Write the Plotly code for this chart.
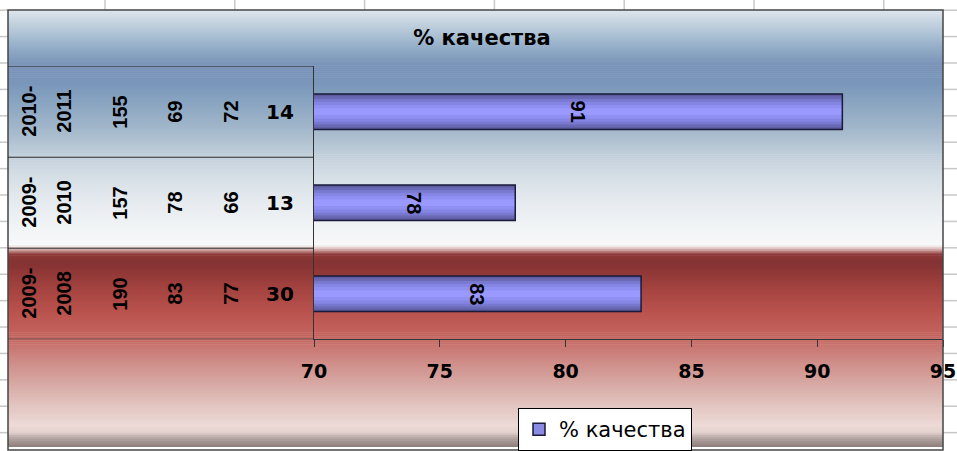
import plotly.graph_objects as go

# ---------------- data ----------------
periods = ["2009-2008", "2009-2010", "2010-2011"]      # bottom -> top
col_a = [190, 157, 155]
col_b = [83, 78, 69]
col_c = [77, 66, 72]
col_d = [30, 13, 14]
quality = [83, 78, 91]
x_ticks = [70, 75, 80, 85, 90, 95]
series_name = "% качества"
chart_title = "% качества"

# ---------------- geometry helpers (canvas pixels -> paper) ----------------
W, H = 957, 451
def px(x):
    return x / W
def py(y):
    return 1 - y / H

X_MIN, X_MAX = x_ticks[0], x_ticks[-1]

fig = go.Figure()

# bar drawn as stacked overlay layers to mimic Excel's gradient fill
layers = [(0.39, "#5b5b9d"), (0.34, "#6868b4"), (0.28, "#7878ce"),
          (0.22, "#8585e4"), (0.15, "#9090f4"), (0.07, "#9999ff")]
for w, c in layers:
    fig.add_trace(go.Bar(x=quality, y=periods, orientation="h", width=w,
                         marker=dict(color=c, line=dict(width=0)),
                         showlegend=False, hoverinfo="skip"))
# outline on top
fig.add_trace(go.Bar(x=quality, y=periods, orientation="h", width=0.39,
                     marker=dict(color="rgba(0,0,0,0)",
                                 line=dict(color="#1a1a3a", width=1.5)),
                     name=series_name, showlegend=False,
                     hovertemplate="%{y}: %{x}<extra></extra>"))
# legend entry
fig.add_trace(go.Bar(x=[None], y=[None], orientation="h", name=series_name,
                     marker=dict(color="#8a8ae2", line=dict(color="#1a1a3a", width=1.5)),
                     showlegend=True))

# ---------------- background gradient (chart area) ----------------
stops = [
    (10, (0xdf, 0xe7, 0xee)), (22, (0xc6, 0xd4, 0xe0)), (37, (0xa9, 0xbf, 0xd2)),
    (52, (0x8c, 0xa7, 0xc4)), (68, (0x77, 0x91, 0xb7)), (85, (0x7a, 0x97, 0xba)),
    (105, (0x8b, 0xa6, 0xc2)), (130, (0xa2, 0xb7, 0xca)), (155, (0xbf, 0xcd, 0xd9)),
    (180, (0xd7, 0xe0, 0xe7)), (205, (0xe6, 0xeb, 0xef)), (230, (0xf1, 0xf4, 0xf6)),
    (248, (0xf7, 0xf8, 0xf9)), (252, (0xd9, 0xb4, 0xb2)), (257, (0x8e, 0x3a, 0x38)),
    (266, (0x84, 0x32, 0x32)), (290, (0xa2, 0x42, 0x3f)), (315, (0xb9, 0x52, 0x4d)),
    (340, (0xc4, 0x65, 0x60)), (360, (0xcc, 0x85, 0x80)), (385, (0xd6, 0xa5, 0xa0)),
    (410, (0xe2, 0xc5, 0xc0)), (430, (0xec, 0xd9, 0xd5)), (437, (0xe2, 0xd0, 0xcc)),
    (444, (0xb0, 0xa0, 0x9e)), (452, (0x8c, 0x7c, 0x7a)),
]
def color_at(y):
    for (y0, c0), (y1, c1) in zip(stops[:-1], stops[1:]):
        if y0 <= y <= y1:
            t = (y - y0) / (y1 - y0)
            return "rgb(%d,%d,%d)" % tuple(round(a + (b - a) * t) for a, b in zip(c0, c1))
    return "rgb(%d,%d,%d)" % stops[-1][1]

shapes = []
step = 2
y = 10
while y < 452:
    shapes.append(dict(type="rect", xref="paper", yref="paper", layer="below",
                       x0=px(8), x1=px(943), y0=py(min(y + step + 0.6, 452)), y1=py(y),
                       fillcolor=color_at(y + step / 2), line=dict(width=0)))
    y += step

# spreadsheet grid outside the chart area
grid_c = "#c8c8c8"
gy = 10.3
while gy < H:
    shapes.append(dict(type="line", xref="paper", yref="paper", layer="below",
                       x0=0, x1=px(8), y0=py(gy), y1=py(gy), line=dict(color=grid_c, width=1.5)))
    shapes.append(dict(type="line", xref="paper", yref="paper", layer="below",
                       x0=px(943), x1=1, y0=py(gy), y1=py(gy), line=dict(color=grid_c, width=1.5)))
    gy += 26.7
gx = 105
while gx < 943:
    shapes.append(dict(type="line", xref="paper", yref="paper", layer="below",
                       x0=px(gx), x1=px(gx), y0=py(10), y1=1, line=dict(color=grid_c, width=1.5)))
    gx += 129.8

# chart area border
shapes.append(dict(type="rect", xref="paper", yref="paper", layer="above",
                   x0=px(8), x1=px(943), y0=py(455), y1=py(10),
                   line=dict(color="#454545", width=1.5), fillcolor="rgba(0,0,0,0)"))

# data table lines
for k in range(len(periods) + 1):
    shapes.append(dict(type="line", xref="paper", yref="y", layer="above",
                       x0=px(8), x1=px(314), y0=k - 0.5, y1=k - 0.5,
                       line=dict(color="#2a2a2a", width=1)))

# ---------------- annotations ----------------
annotations = []
rot_font = dict(family="Liberation Sans, Arial", size=20, color="black", weight="bold")
hor_font = dict(family="DejaVu Sans", size=20, color="black", weight="bold")
for i, p in enumerate(periods):
    first, second = p.split("-")
    for txt, xx in [(first + "-", 29), (second, 64), (str(col_a[i]), 120),
                    (str(col_b[i]), 175), (str(col_c[i]), 231)]:
        annotations.append(dict(xref="paper", yref="y", x=px(xx), y=p, text=txt,
                                textangle=-90, showarrow=False, font=rot_font,
                                xanchor="center", yanchor="middle"))
    annotations.append(dict(xref="paper", yref="y", x=px(280), y=p, text=str(col_d[i]),
                            showarrow=False, font=hor_font, xanchor="center", yanchor="middle"))
    # bar value labels (centred on the visible part of the bar)
    annotations.append(dict(xref="x", yref="y", x=(X_MIN + quality[i]) / 2, y=p,
                            text=str(quality[i]), textangle=90, showarrow=False,
                            font=dict(family="Liberation Sans, Arial", size=20,
                                      color="black", weight="bold")))

fig.update_layout(
    width=W, height=H,
    margin=dict(l=0, r=0, t=0, b=0),
    paper_bgcolor="white", plot_bgcolor="rgba(0,0,0,0)",
    barmode="overlay",
    title=dict(text=chart_title, x=px(482), y=py(38), xanchor="center", yanchor="middle",
               xref="paper", yref="paper",
               font=dict(family="DejaVu Sans", size=21, color="black", weight="bold")),
    xaxis=dict(domain=[px(314), px(943)], range=[X_MIN, X_MAX], tickvals=x_ticks,
               showline=True, linecolor="#333333", linewidth=1, ticks="outside",
               ticklen=7, tickcolor="#333333", showgrid=False, zeroline=False,
               automargin=False, ticklabelstandoff=8,
               tickfont=dict(family="DejaVu Sans", size=19, color="black", weight="bold")),
    yaxis=dict(domain=[py(343), py(67)], type="category", categoryorder="array",
               categoryarray=periods, range=[-0.5, len(periods) - 0.5],
               showticklabels=False, showline=True, linecolor="#333333", linewidth=1,
               showgrid=False, zeroline=False, ticks="", automargin=False),
    legend=dict(orientation="h", x=px(518), y=py(413), xanchor="left", yanchor="top",
                bgcolor="white", bordercolor="black", borderwidth=1,
                font=dict(family="DejaVu Sans", size=21, color="black")),
    shapes=shapes,
    annotations=annotations,
    showlegend=True,
)

fig.write_html("out.html", config={"displayModeBar": False},
               post_script="document.body.style.margin='0';document.body.style.overflow='hidden';")
